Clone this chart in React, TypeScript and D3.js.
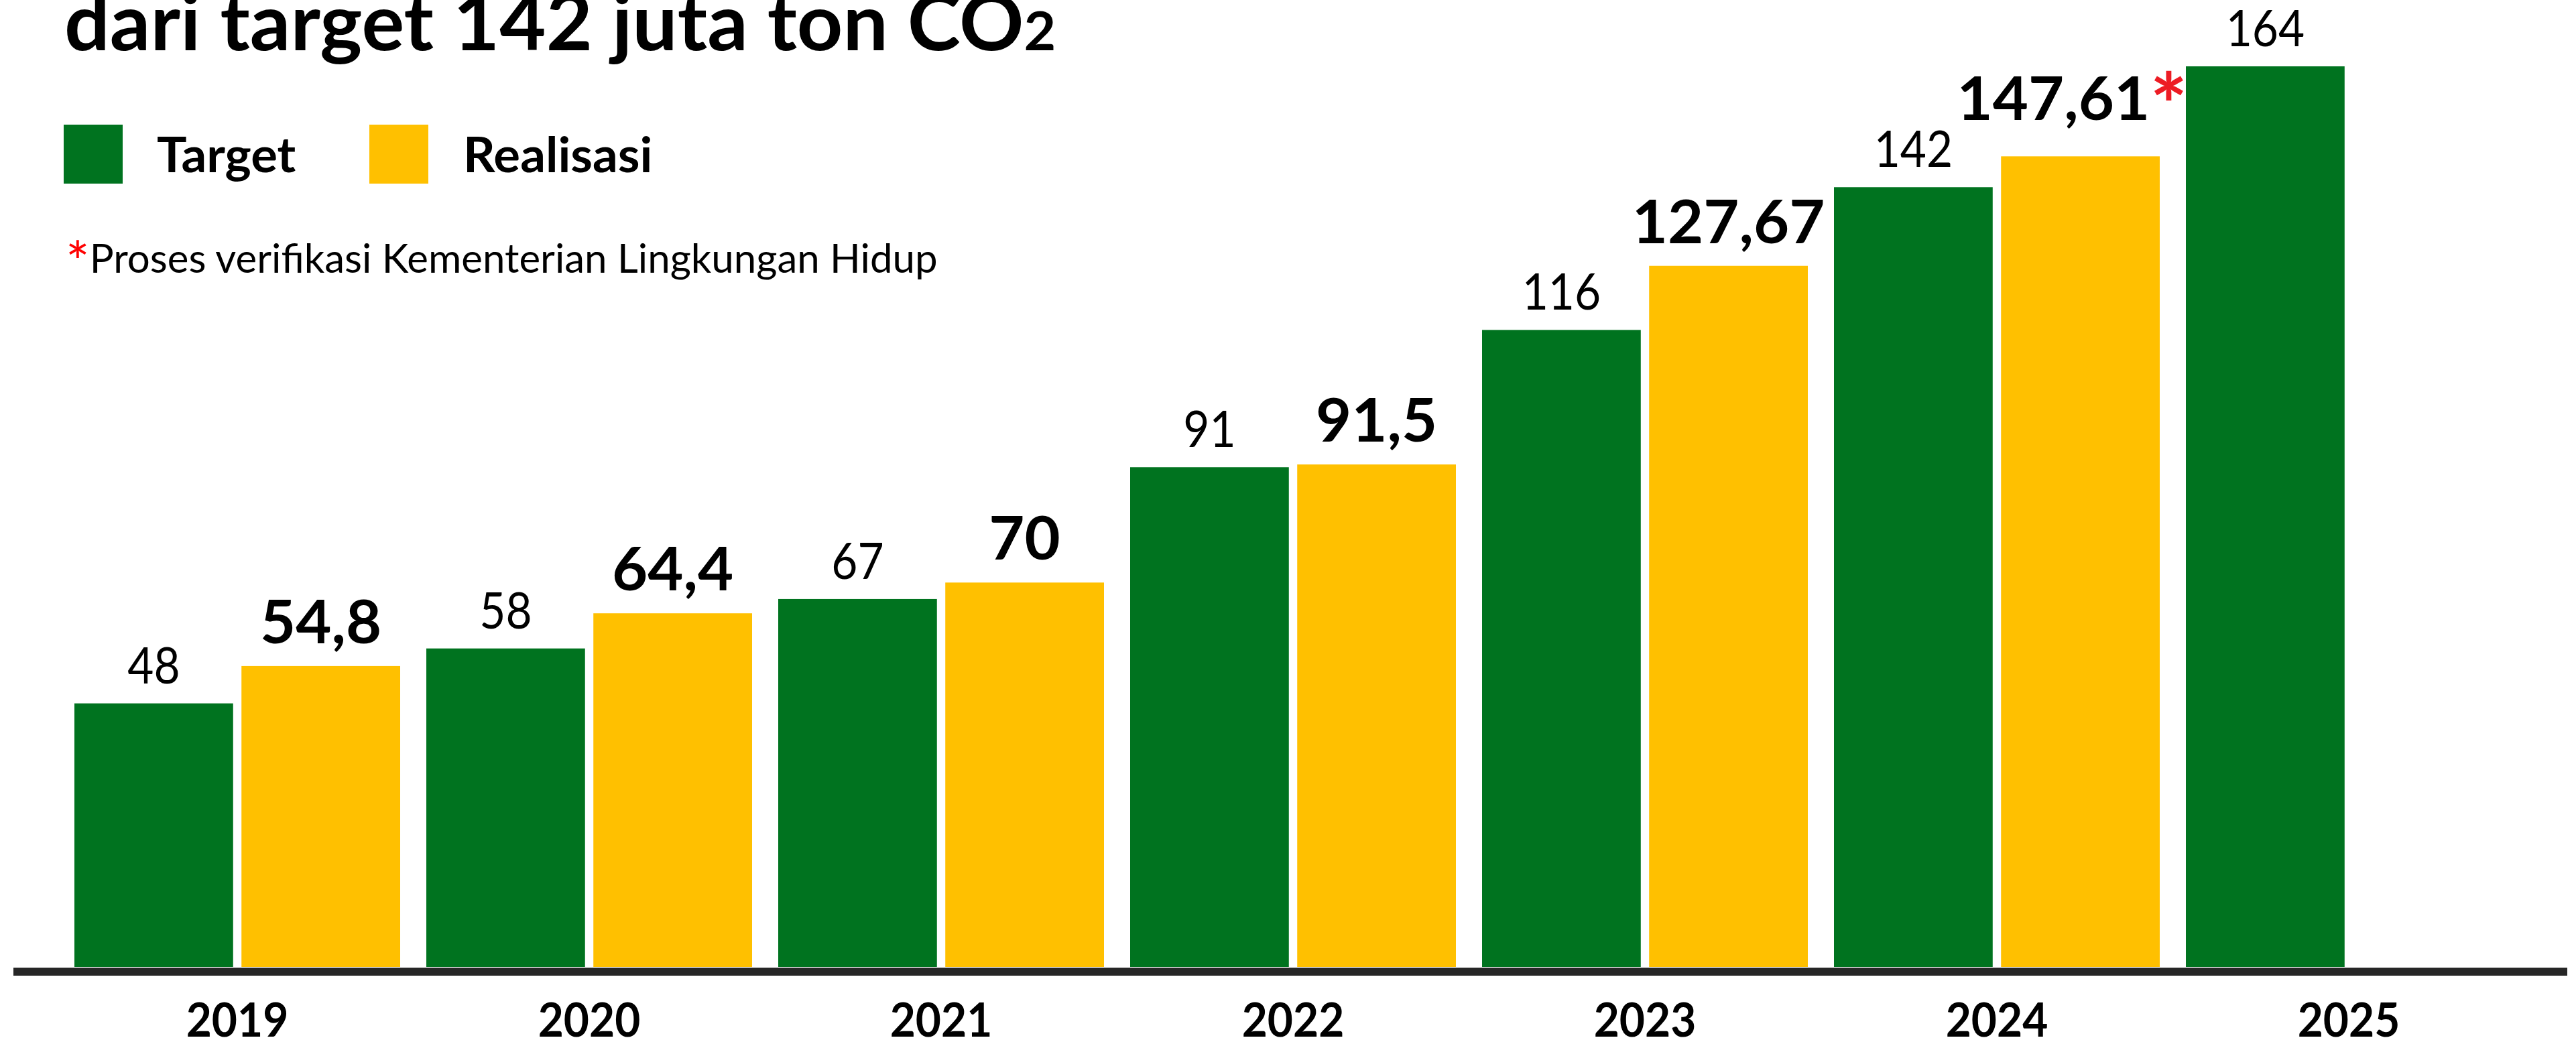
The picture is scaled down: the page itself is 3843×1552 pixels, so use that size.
import React from 'react';
import * as d3 from 'd3';

const years = ['2019', '2020', '2021', '2022', '2023', '2024', '2025'];
const targetValues = [48, 58, 67, 91, 116, 142, 164];
const realisasiValues: (number | null)[] = [54.8, 64.4, 70, 91.5, 127.67, 147.61, null];
const realisasiNoted = [false, false, false, false, false, true, false];
const seriesNames = ['Target', 'Realisasi'];
const seriesColors = ['#00731F', '#FFC000'];
const titleMain = 'dari target 142 juta ton CO';
const titleSub = '2';
const footnoteText = 'Proses verifikasi Kementerian Lingkungan Hidup';

const FONT = "Lato, 'Open Sans', sans-serif";

function SText(props: any) {
  const { x, y, sx = 1, children, ...rest } = props;
  return (
    <text transform={`translate(${x},${y}) scale(${sx},1)`} fontFamily={FONT} {...rest}>
      {children}
    </text>
  );
}

export default function App() {
  const W = 3843;
  const H = 1552;
  const baseY = 1443;
  const topY = 99;

  const x = d3.scaleBand<string>().domain(years).range([111, 3747]).paddingInner(0.0743).paddingOuter(0);
  const xi = d3.scaleBand<string>().domain(seriesNames).range([0, x.bandwidth()]).paddingInner(0.05);
  const y = d3.scaleLinear().domain([0, d3.max(targetValues) as number]).range([baseY, topY]);
  const fmt = d3
    .formatLocale({ decimal: ',', thousands: '.', grouping: [3], currency: ['Rp', ''] })
    .format('');

  return (
    <svg
      width={W}
      height={H}
      viewBox={`0 0 ${W} ${H}`}
      style={{ position: 'absolute', left: 0, top: 0, background: '#fff' }}
    >
      <rect x={0} y={0} width={W} height={H} fill="#fff" />
      {/* title (clipped at top like the reference) */}
      <SText x={96} y={75} sx={1.03} fontSize={116} fontWeight={700} fill="#000">
        {titleMain}
        <tspan fontSize={80}>{titleSub}</tspan>
      </SText>

      {/* legend */}
      {seriesNames.map((s, i) => (
        <g key={s}>
          <rect x={i === 0 ? 95 : 551} y={186} width={88} height={88} fill={seriesColors[i]} />
          <SText x={i === 0 ? 234 : 691} y={257} sx={1.02} fontSize={73} fontWeight={700} fill="#000">
            {s}
          </SText>
        </g>
      ))}

      {/* footnote */}
      <SText x={98} y={407} sx={1.0} fontSize={60} fill="#000">
        <tspan fill="#FF0000" fontSize={84} dy={14}>*</tspan>
        <tspan dy={-14}>{footnoteText}</tspan>
      </SText>

      {/* bars */}
      {years.map((yr, i) => {
        const gx = x(yr) as number;
        const tx = gx + (xi('Target') as number);
        const rv = realisasiValues[i];
        const rx = gx + (xi('Realisasi') as number);
        const bw = xi.bandwidth();
        return (
          <g key={yr}>
            <rect x={tx} y={y(targetValues[i])} width={bw} height={baseY - y(targetValues[i])} fill={seriesColors[0]} />
            <SText
              x={tx + bw / 2}
              y={y(targetValues[i]) - 30}
              sx={0.9}
              fontSize={75}
              fill="#000"
              textAnchor="middle"
            >
              {fmt(targetValues[i])}
            </SText>
            {rv != null && (
              <>
                <rect x={rx} y={y(rv)} width={bw} height={baseY - y(rv)} fill={seriesColors[1]} />
                <SText
                  x={rx + bw / 2 - (realisasiNoted[i] ? 12 : 0)}
                  y={y(rv) - (realisasiNoted[i] ? 54 : 34)}
                  sx={1.02}
                  fontSize={90}
                  fontWeight={700}
                  fill="#000"
                  textAnchor="middle"
                >
                  {fmt(rv)}
                  {realisasiNoted[i] && (
                    <tspan fill="#ED1C24" fontSize={130} dy={26}>
                      *
                    </tspan>
                  )}
                </SText>
              </>
            )}
            <SText
              x={gx + x.bandwidth() / 2}
              y={1547}
              sx={0.94}
              fontSize={70}
              fontWeight={700}
              fill="#000"
              textAnchor="middle"
            >
              {yr}
            </SText>
          </g>
        );
      })}

      {/* baseline axis */}
      <rect x={20} y={1444} width={3810} height={12} fill="#262626" />
    </svg>
  );
}
